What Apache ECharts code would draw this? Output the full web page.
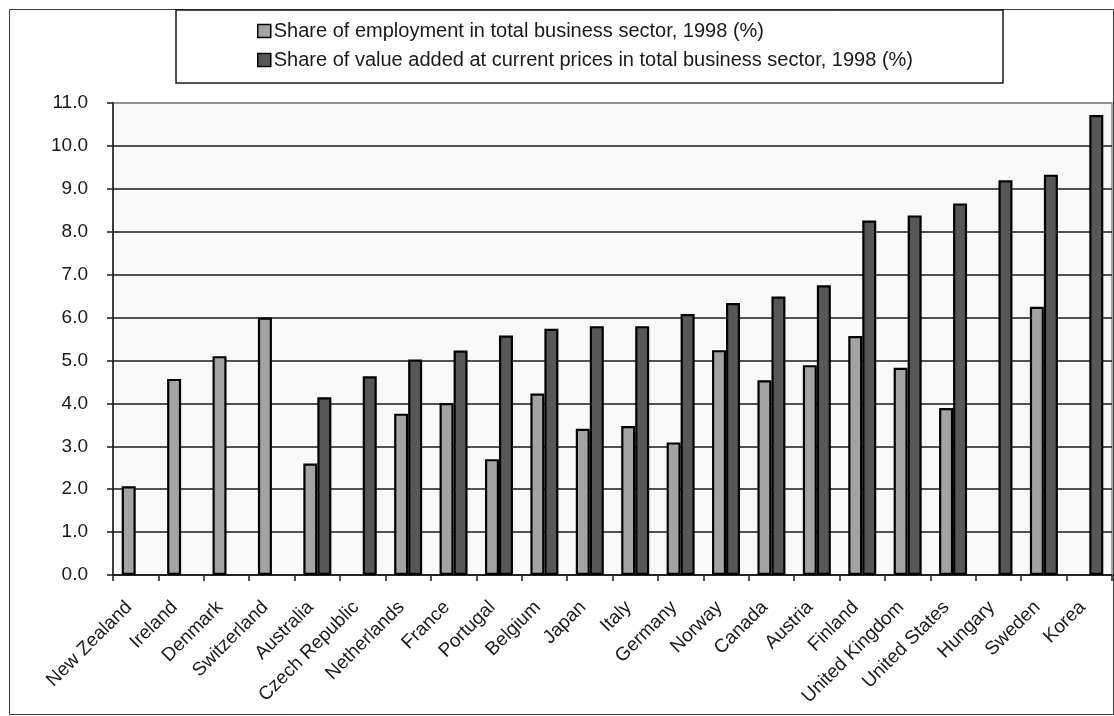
<!DOCTYPE html>
<html>
<head>
<meta charset="utf-8">
<script src="https://cdn.jsdelivr.net/npm/echarts@6/dist/echarts.min.js"></script>
<style>
  html, body { margin: 0; padding: 0; background: #ffffff; }
  #chart { width: 1114px; height: 716px; }
</style>
</head>
<body>
<div id="chart"></div>
<script>
// Countries, ordered by share of value added
const countries = [
  'New Zealand', 'Ireland', 'Denmark', 'Switzerland', 'Australia', 'Czech Republic',
  'Netherlands', 'France', 'Portugal', 'Belgium', 'Japan', 'Italy', 'Germany',
  'Norway', 'Canada', 'Austria', 'Finland', 'United Kingdom', 'United States',
  'Hungary', 'Sweden', 'Korea'
];

// Share of employment in total business sector, 1998 (%)
const employmentShare = [
  2.07, 4.57, 5.10, 6.00, 2.60, null,
  3.76, 4.01, 2.70, 4.23, 3.41, 3.47, 3.09,
  5.24, 4.54, 4.89, 5.57, 4.83, 3.89,
  null, 6.25, null
];

// Share of value added at current prices in total business sector, 1998 (%)
const valueAddedShare = [
  null, null, null, null, 4.14, 4.63,
  5.02, 5.23, 5.58, 5.74, 5.80, 5.80, 6.08,
  6.34, 6.49, 6.75, 8.26, 8.38, 8.66,
  9.20, 9.33, 10.72
];

const seriesNames = [
  'Share of employment in total business sector, 1998 (%)',
  'Share of value added at current prices in total business sector, 1998 (%)'
];

const yTicks = [0, 1, 2, 3, 4, 5, 6, 7, 8, 9, 10, 11];

const FONT = '"Liberation Sans", Arial, sans-serif';
const chart = echarts.init(document.getElementById('chart'), null, { renderer: 'canvas' });

// gridlines are black except the top one, which sits on the grey frame
const splitColors = yTicks.map((v, i) => (i === yTicks.length - 1 ? '#8a8a8a' : '#1a1a1a'));

chart.setOption({
  animation: false,
  backgroundColor: '#ffffff',
  textStyle: { fontFamily: FONT },
  graphic: [
    {
      type: 'rect',
      shape: { x: 9.5, y: 9.5, width: 1104, height: 705 },
      style: { fill: 'none', stroke: '#3a3a3a', lineWidth: 1 },
      z: -1
    }
  ],
  legend: {
    orient: 'vertical',
    left: 176,
    top: 10,
    padding: [11, 90, 13, 81],
    itemGap: 9,
    itemWidth: 13,
    itemHeight: 13,
    borderColor: '#1a1a1a',
    borderWidth: 1.5,
    backgroundColor: '#ffffff',
    textStyle: { fontFamily: FONT, fontSize: 20, lineHeight: 20, color: '#1a1a1a', padding: [0, 0, 0, -2] },
    itemStyle: { borderColor: '#000', borderWidth: 1.5 },
    data: seriesNames.map(n => ({ name: n, icon: 'rect' }))
  },
  grid: {
    left: 113,
    right: 2,
    top: 103,
    bottom: 141,
    show: true,
    backgroundColor: '#f8f8f8',
    borderColor: '#8a8a8a',
    borderWidth: 1.5
  },
  xAxis: {
    type: 'category',
    data: countries,
    boundaryGap: true,
    axisLine: { show: true, lineStyle: { color: '#1a1a1a', width: 1.5 } },
    axisTick: { show: true, alignWithLabel: false, length: 6, lineStyle: { color: '#1a1a1a', width: 1.5 } },
    axisLabel: {
      interval: 0,
      rotate: 45,
      margin: 36,
      verticalAlign: 'bottom',
      fontSize: 19,
      color: '#1a1a1a',
      fontFamily: FONT
    },
    splitLine: { show: false }
  },
  yAxis: {
    type: 'value',
    min: 0,
    max: 11,
    interval: 1,
    axisLine: { show: true, lineStyle: { color: '#1a1a1a', width: 1.5 } },
    axisTick: { show: true, length: 6, lineStyle: { color: '#1a1a1a', width: 1.5 } },
    axisLabel: {
      fontSize: 19,
      color: '#1a1a1a',
      margin: 25,
      fontFamily: FONT,
      formatter: v => v.toFixed(1)
    },
    splitLine: { show: true, lineStyle: { color: splitColors, width: 1.5 } }
  },
  series: [
    {
      name: seriesNames[0],
      type: 'bar',
      data: employmentShare,
      barWidth: 14,
      barGap: '0%',
      itemStyle: { color: '#a3a3a3', borderColor: '#000000', borderWidth: 2.2 }
    },
    {
      name: seriesNames[1],
      type: 'bar',
      data: valueAddedShare,
      barWidth: 14,
      barGap: '0%',
      itemStyle: { color: '#575757', borderColor: '#000000', borderWidth: 2.2 }
    }
  ]
});
</script>
</body>
</html>
